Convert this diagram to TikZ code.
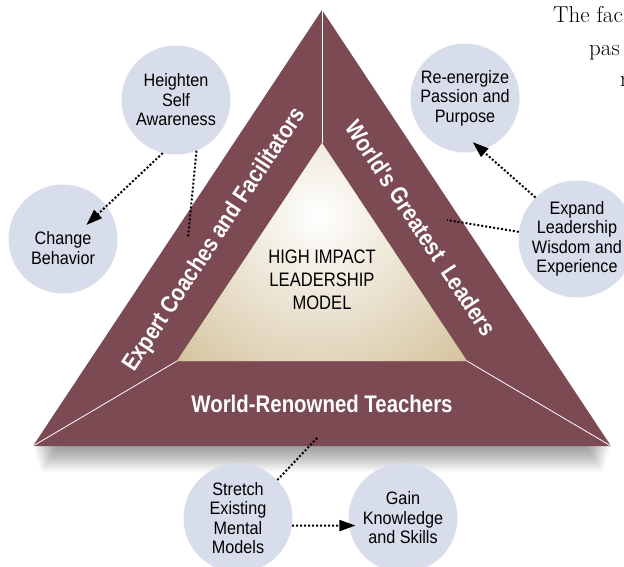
\documentclass[tikz,border=0pt]{standalone}
\usepackage{fontspec}
\newfontfamily\narrowsans{Liberation Sans}[FakeStretch=0.85]
\newfontfamily\bubblesans{Liberation Sans}[FakeStretch=0.9]
\usepackage{tikz}
\usetikzlibrary{positioning, calc, arrows.meta}

\definecolor{wine}{HTML}{7B4A53}
\definecolor{sand}{HTML}{C5AE7A}
\definecolor{mist}{HTML}{D8DDEB}

\begin{document}
\begin{tikzpicture}[
    % GLOBAL SETTINGS
    x=1pt, y=-1pt,
    % STYLES
    bubble_text/.style={align=center, inner sep=0pt, font=\bubblesans\fontsize{18}{19.5}\selectfont},
    bubble/.style={circle, fill=mist, minimum size=109pt, inner sep=0pt, bubble_text},
    band_label/.style={text=white, inner sep=0pt, font=\narrowsans\bfseries\fontsize{24}{28}\selectfont},
    core_label/.style={align=center, font=\narrowsans\fontsize{19.5}{23}\selectfont},
    page_text/.style={anchor=base west, inner sep=0pt, font=\rmfamily\fontsize{23}{27}\selectfont},
    divider/.style={draw=white, line width=0.8pt},
    link/.style={line width=2pt, dash pattern=on 2pt off 2pt},
    flow/.style={link, -{Triangle[length=16pt, width=11pt]}}
]

    \def\shadowstep{1}

    \useasboundingbox (0,0) rectangle (624,566);
    \clip (0,0) rectangle (624,566);
    \fill[white] (0,0) rectangle (624,566);

    \coordinate (top)      at (322,10);
    \coordinate (left)     at (33,446);
    \coordinate (right)    at (611,446);
    \coordinate (in_top)   at (322,143);
    \coordinate (in_left)  at (177,361);
    \coordinate (in_right) at (467,361);

    % soft shadow under the triangle
    \foreach \k in {1,...,26} {
        \fill[black, opacity=0.016]
            ($(top)+(0,\k*\shadowstep)$) -- ($(left)+(0.3*\k,\k*\shadowstep)$) -- ($(right)+(-0.3*\k,\k*\shadowstep)$) -- cycle;
    }

    % Draw the three bands and the core
    \fill[wine] (top) -- (left) -- (right) -- cycle;
    \fill[sand] (in_top) -- (in_left) -- (in_right) -- cycle;
    \begin{scope}
        \clip (in_top) -- (in_left) -- (in_right) -- cycle;
        \shade[inner color=white, outer color=sand] (318,215) circle (280);
    \end{scope}

    \draw[divider] (top) -- (in_top);
    \draw[divider] (left) -- (in_left);
    \draw[divider] (right) -- (in_right);

    \node[core_label] (core) at (322,280) {HIGH IMPACT\\LEADERSHIP\\MODEL};

    \node[band_label, rotate=56.5]  (coaches)  at (215,240) {Expert Coaches and Facilitators};
    \node[band_label, rotate=-56.5] (greatest) at (421,228) {World's Greatest~ Leaders};
    \node[band_label]               (teachers) at (322,404) {World-Renowned Teachers};

    % ends of the dotted links on the bands
    \coordinate (coaches_pt)  at (188,238);
    \coordinate (greatest_pt) at (447,220);
    \coordinate (teachers_pt) at (318,437);

    % Draw the outcome bubbles
    \node[bubble] (heighten)  at (176,100) {Heighten\\Self\\Awareness};
    \node[bubble, label={[bubble_text, yshift=-9pt]center:Change\\Behavior}] (change) at (63,239) {};
    \node[bubble] (renergize) at (465,98)  {Re-energize\\Passion and\\Purpose};
    \node[bubble] (expand)    at (577,239) {Expand\\Leadership\\Wisdom and\\Experience};
    \node[bubble] (stretch)   at (238,518) {Stretch\\Existing\\Mental\\Models};
    \node[bubble] (gain)      at (403,518) {Gain\\Knowledge\\and Skills};

    \draw[link] (heighten.292) -- (coaches_pt);
    \draw[flow] (heighten.256) -- ($(change)!0.5!(change.31)$);
    \draw[link] (expand.173) -- (greatest_pt);
    \draw[flow] (expand.135) -- ($(renergize)!0.82!(renergize.280)$);
    \draw[link] (stretch.44) -- (teachers_pt);
    \draw[flow] (stretch.-8) -- ($(gain)!0.88!(gain.189)$);

    % running text of the page beside it
    \node[page_text] (fac) at (553,22) {The fac};
    \node[page_text] (pas) at (589,55) {pas};
    \node[page_text] (rr)  at (620,86) {r};

\end{tikzpicture}
\end{document}
